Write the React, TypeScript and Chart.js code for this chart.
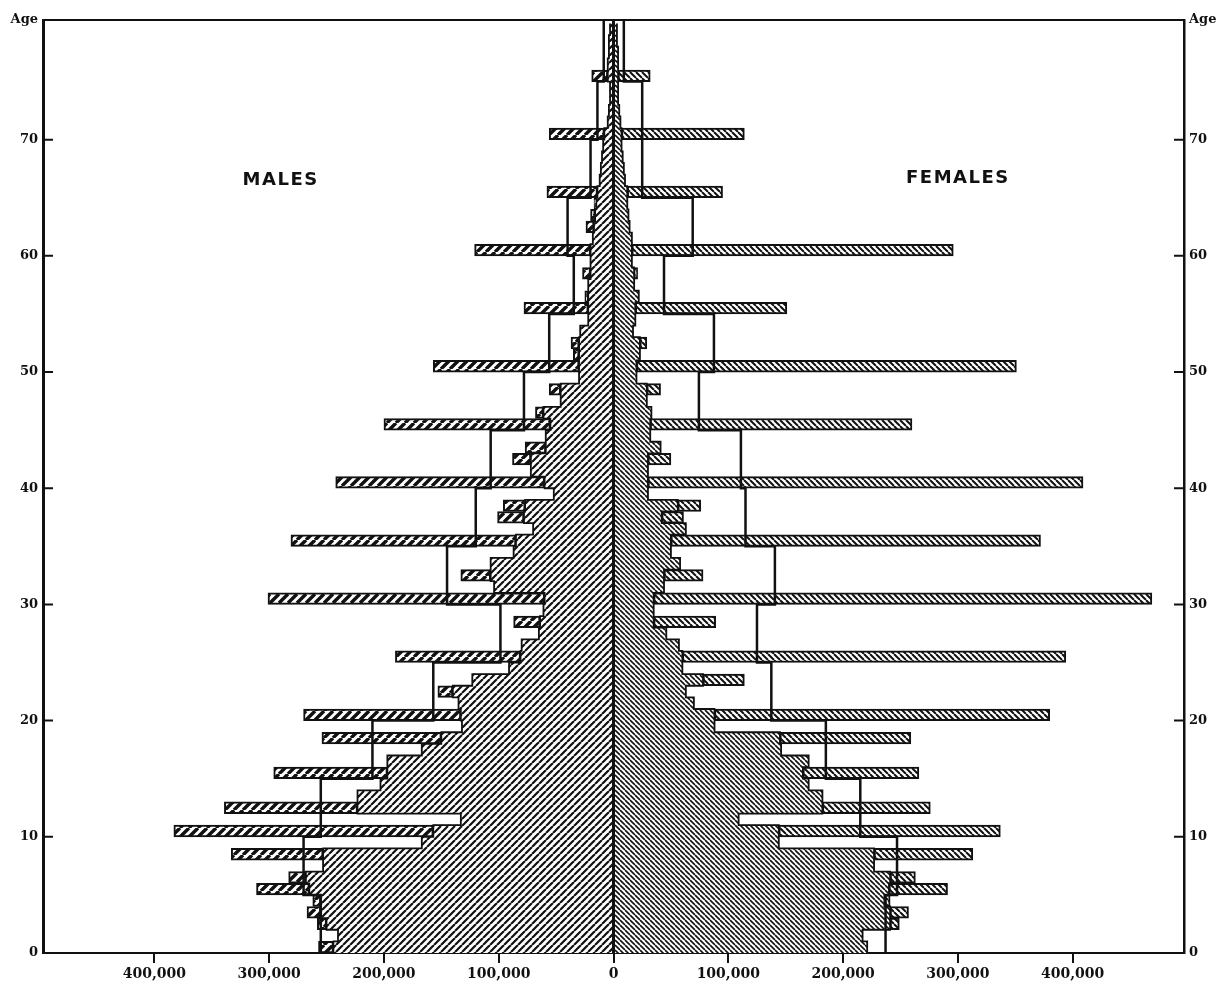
import React, { useEffect, useRef } from 'react';
import { Chart, registerables } from 'chart.js';

Chart.register(...registerables);

const W = 1225;
const H = 988;
const INK = '#111111';
const K = 1000; // values below are in thousands of persons
const AGE_MAX = 80.3;

// Single years of age 0..79
const ages: number[] = Array.from({ length: 80 }, (_, i) => i);
// Five-year groups 0-4 ... 75-79
const groupStarts: number[] = [0, 5, 10, 15, 20, 25, 30, 35, 40, 45, 50, 55, 60, 65, 70, 75];

const ageTicks: number[] = [0, 10, 20, 30, 40, 50, 60, 70];
const popTicks: number[] = [-400000, -300000, -200000, -100000, 0, 100000, 200000, 300000, 400000];

// MALES: recorded number at each single year of age (thousands)
const maleActual: number[] = [
  257, 240, 258, 267, 262, 311, 283, 253, 333, 167,
  383, 133, 339, 223, 203, 296, 197, 167, 254, 132,
  270, 135, 153, 123, 91, 190, 80, 65, 87, 61,
  301, 104, 133, 107, 87, 281, 70, 101, 96, 52,
  242, 72, 88, 77, 59, 200, 68, 46, 56, 30,
  157, 35, 37, 29, 22, 78, 25, 22, 27, 20,
  121, 18, 24, 20, 17, 58, 12, 11, 10, 9,
  56, 5, 4, 3, 3, 19, 5, 4, 4, 3,
];
// MALES: extent of the densely hatched inner part (thousands)
const maleInner: number[] = [
  244, 240, 250, 255, 255, 265, 268, 253, 253, 167,
  157, 133, 223, 223, 203, 197, 197, 167, 150, 132,
  133, 135, 140, 123, 91, 81, 80, 65, 64, 61,
  60, 104, 107, 107, 87, 85, 70, 78, 77, 52,
  60, 72, 72, 59, 59, 55, 61, 46, 46, 30,
  30, 30, 30, 29, 22, 22, 22, 22, 20, 20,
  20, 18, 17, 16, 15, 14, 12, 11, 10, 9,
  8, 5, 4, 3, 3, 5, 5, 4, 4, 3,
];
// MALES: five-year group average per single year (thousands)
const maleGroupMean: number[] = [255, 270, 255, 210, 157, 98.5, 145, 120, 107, 78, 56, 34.6, 40, 20, 14, 8.5];

// FEMALES
const femaleActual: number[] = [
  221, 217, 249, 257, 241, 291, 263, 227, 313, 144,
  337, 109, 276, 182, 170, 266, 170, 146, 259, 88,
  380, 70, 63, 114, 60, 394, 57, 46, 89, 35,
  469, 44, 78, 58, 50, 372, 63, 61, 76, 30,
  409, 30, 50, 41, 32, 260, 33, 29, 41, 20,
  351, 23, 29, 17, 19, 151, 22, 18, 21, 16,
  296, 16, 14, 13, 12, 95, 10, 9, 8, 7,
  114, 6, 5, 4, 4, 32, 4, 4, 3, 3,
];
const femaleInner: number[] = [
  221, 217, 241, 241, 236, 240, 241, 227, 227, 144,
  144, 109, 182, 182, 170, 165, 170, 146, 145, 88,
  88, 70, 63, 78, 60, 60, 57, 46, 35, 35,
  35, 44, 44, 58, 50, 50, 63, 42, 56, 30,
  30, 30, 30, 41, 32, 32, 33, 29, 29, 20,
  20, 23, 23, 17, 19, 19, 22, 18, 18, 16,
  16, 16, 14, 13, 12, 12, 10, 9, 8, 7,
  7, 6, 5, 4, 4, 4, 4, 4, 3, 3,
];
const femaleGroupMean: number[] = [237, 247, 215, 185, 137.5, 125, 140.6, 115, 111, 74.4, 87.5, 44, 69, 25, 25, 9];

function makePattern(dir: 1 | -1, period: number, width: number): CanvasPattern | string {
  const c = document.createElement('canvas');
  c.width = period;
  c.height = period;
  const g = c.getContext('2d');
  if (!g) return INK;
  g.fillStyle = '#ffffff';
  g.fillRect(0, 0, period, period);
  g.strokeStyle = INK;
  g.lineWidth = width;
  g.beginPath();
  for (const off of [-period, 0, period]) {
    if (dir === 1) {
      g.moveTo(off, period);
      g.lineTo(off + period, 0);
    } else {
      g.moveTo(off, 0);
      g.lineTo(off + period, period);
    }
  }
  g.stroke();
  return g.createPattern(c, 'repeat') || INK;
}

function buildSide(actual: number[], inner: number[], means: number[], sign: number) {
  const dense = ages.map((a) => ({ y: a + 0.5, x: sign * inner[a] * K }));
  const excess = ages
    .filter((a) => actual[a] > inner[a])
    .map((a) => ({ y: a + 0.5, x: [sign * actual[a] * K, sign * inner[a] * K] }));
  const outline: { x: number; y: number }[] = [];
  ages.forEach((a) => {
    outline.push({ x: sign * inner[a] * K, y: a });
    outline.push({ x: sign * inner[a] * K, y: a + 1 });
  });
  const step: { x: number; y: number }[] = [];
  groupStarts.forEach((g, i) => {
    const v = sign * means[i] * K;
    step.push({ x: v, y: g });
    step.push({ x: v, y: i === groupStarts.length - 1 ? AGE_MAX : g + 5 });
  });
  return { dense, excess, outline, step };
}

const framePlugin = {
  id: 'frame',
  afterDatasetsDraw(chart: any) {
    const { ctx, chartArea: ca, scales } = chart;
    const xs = scales.x;
    const ys = scales.y;
    ctx.save();
    ctx.strokeStyle = INK;
    ctx.lineWidth = 3;
    const x0 = xs.getPixelForValue(0);
    ctx.beginPath();
    ctx.moveTo(x0, ca.bottom);
    ctx.lineTo(x0, ca.top);
    ctx.stroke();
    ctx.lineWidth = 2;
    ctx.beginPath();
    ctx.moveTo(ca.left - 1, ca.top);
    ctx.lineTo(ca.right + 1, ca.top);
    ctx.stroke();
    for (const v of ageTicks) {
      if (v === 0) continue;
      const y = ys.getPixelForValue(v);
      ctx.beginPath();
      ctx.moveTo(ca.left, y);
      ctx.lineTo(ca.left + 10, y);
      ctx.moveTo(ca.right, y);
      ctx.lineTo(ca.right - 10, y);
      ctx.stroke();
    }
    ctx.fillStyle = INK;
    ctx.font = 'bold 18px "DejaVu Sans"';
    ctx.textAlign = 'center';
    ctx.textBaseline = 'middle';
    (ctx as any).letterSpacing = '1.5px';
    ctx.fillText('MALES', xs.getPixelForValue(-290000), ys.getPixelForValue(66.5));
    ctx.fillText('FEMALES', xs.getPixelForValue(300000), ys.getPixelForValue(66.7));
    ctx.restore();
  },
};

export default function App() {
  const ref = useRef<HTMLCanvasElement>(null);

  useEffect(() => {
    const canvas = ref.current;
    if (!canvas) return;

    const maleDenseFill = makePattern(1, 7, 2.2);
    const maleBoxFill = makePattern(1, 9, 3.4);
    const femaleDenseFill = makePattern(-1, 5, 1.6);
    const femaleBoxFill = makePattern(-1, 6, 2.0);

    const m = buildSide(maleActual, maleInner, maleGroupMean, -1);
    const f = buildSide(femaleActual, femaleInner, femaleGroupMean, 1);

    const tickFont = { family: '"DejaVu Serif"', weight: 'bold' as const, size: 14 };
    const ageFont = { family: '"DejaVu Serif"', weight: 'bold' as const, size: 13 };

    const boxCommon = {
      type: 'bar' as const,
      borderColor: INK,
      borderWidth: 2,
      borderSkipped: false as const,
      xAxisID: 'x',
      yAxisID: 'y',
      order: 1,
    };
    const lineCommon = {
      type: 'line' as const,
      borderColor: INK,
      borderWidth: 2.5,
      pointRadius: 0,
      fill: false,
      tension: 0,
      xAxisID: 'x',
      yAxisID: 'y',
      order: 0,
    };
    const outlineCommon = { ...lineCommon, borderWidth: 1.8, order: 1.5 };

    const yAxis = (position: 'left' | 'right', width: number, borderWidth: number) => ({
      type: 'linear' as const,
      position,
      min: 0,
      max: AGE_MAX,
      offset: false,
      grid: { display: false, drawTicks: false, drawOnChartArea: false, offset: false },
      border: { display: true, color: INK, width: borderWidth },
      ticks: {
        color: INK,
        font: ageFont,
        padding: 5,
        callback: (v: any) => (Number(v) >= AGE_MAX ? 'Age' : String(v)),
      },
      afterBuildTicks: (s: any) => {
        s.ticks = [...ageTicks, AGE_MAX].map((v) => ({ value: v }));
      },
      afterFit: (s: any) => {
        s.width = width;
        s.paddingTop = 0;
        s.paddingBottom = 0;
      },
    });

    const chart = new Chart(canvas, {
      type: 'bar',
      data: {
        datasets: [
          { ...lineCommon, label: 'Males 5-year mean', data: m.step },
          { ...lineCommon, label: 'Females 5-year mean', data: f.step },
          { ...boxCommon, label: 'Males excess', data: m.excess as any, backgroundColor: maleBoxFill as any },
          { ...boxCommon, label: 'Females excess', data: f.excess as any, backgroundColor: femaleBoxFill as any },
          { ...outlineCommon, label: 'Males edge', data: m.outline },
          { ...outlineCommon, label: 'Females edge', data: f.outline },
          {
            type: 'bar',
            label: 'Males',
            data: m.dense as any,
            backgroundColor: maleDenseFill as any,
            borderWidth: 0,
            xAxisID: 'x',
            yAxisID: 'y',
            order: 2,
          },
          {
            type: 'bar',
            label: 'Females',
            data: f.dense as any,
            backgroundColor: femaleDenseFill as any,
            borderWidth: 0,
            xAxisID: 'x',
            yAxisID: 'y',
            order: 2,
          },
        ] as any,
      },
      options: {
        indexAxis: 'y',
        animation: false,
        responsive: false,
        maintainAspectRatio: false,
        devicePixelRatio: 1,
        events: [],
        layout: { padding: { top: 20, left: 0, right: 0, bottom: 0 } },
        datasets: {
          bar: { grouped: false, categoryPercentage: 1, barPercentage: 1 },
        },
        plugins: {
          legend: { display: false },
          tooltip: { enabled: false },
          title: { display: false },
        },
        scales: {
          x: {
            type: 'linear',
            position: 'bottom',
            min: -497000,
            max: 497000,
            offset: false,
            grid: {
              display: true,
              drawOnChartArea: false,
              drawTicks: true,
              tickLength: 10,
              color: INK,
              lineWidth: 2,
            },
            border: { display: true, color: INK, width: 2 },
            ticks: {
              color: INK,
              font: tickFont,
              padding: 3,
              maxRotation: 0,
              callback: (v: any) => Math.abs(Number(v)).toLocaleString('en-US'),
            },
            afterBuildTicks: (s: any) => {
              s.ticks = popTicks.map((v) => ({ value: v }));
            },
            afterFit: (s: any) => {
              s.height = 35;
              s.paddingLeft = 0;
              s.paddingRight = 0;
            },
          },
          y: yAxis('left', 43, 3) as any,
          y2: yAxis('right', 41, 2.5) as any,
        },
      } as any,
      plugins: [framePlugin as any],
    });

    return () => chart.destroy();
  }, []);

  return (
    <div style={{ position: 'absolute', left: 0, top: 0, width: W, height: H, background: '#ffffff' }}>
      <canvas ref={ref} width={W} height={H} style={{ display: 'block', width: W, height: H }} />
    </div>
  );
}
